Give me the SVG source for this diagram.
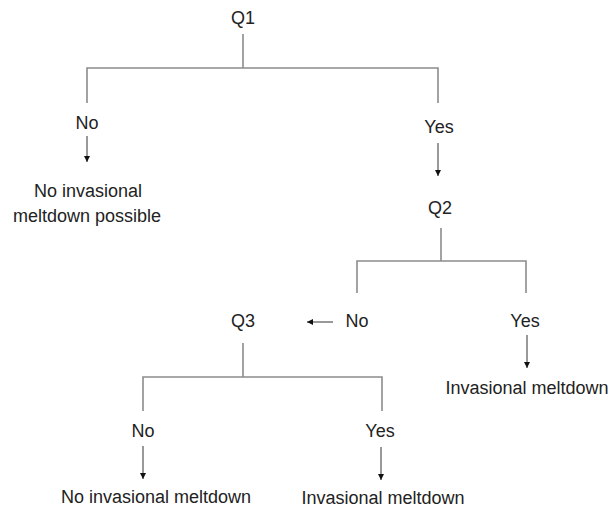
<svg xmlns="http://www.w3.org/2000/svg" width="615" height="508" viewBox="0 0 615 508">
<defs>
<style>
text{font-family:"Liberation Sans",Arial,sans-serif;font-size:18px;fill:#222;text-anchor:middle}
.tree{fill:none;stroke:#8c8c8c;stroke-width:1.6}
.arr{stroke:#555;stroke-width:1.2;marker-end:url(#ah)}
</style>
<marker id="ah" markerUnits="userSpaceOnUse" markerWidth="6" markerHeight="6" refX="6" refY="3" orient="auto">
<path d="M0,0 L6,3 L0,6 z" fill="#111"/>
</marker>
</defs>
<rect width="615" height="508" fill="#fff"/>
<g id="connectors">
<path class="tree" d="M243,34 V68 M87,103 V68 H438 V103"/>
<line class="arr" x1="87" y1="136" x2="87" y2="162"/>
<line class="arr" x1="438" y1="143" x2="438" y2="176"/>
<path class="tree" d="M441,228 V261 M357,293 V261 H526 V293"/>
<line class="arr" x1="333" y1="322" x2="307" y2="322"/>
<line class="arr" x1="527" y1="335" x2="527" y2="368"/>
<path class="tree" d="M243,343 V377 M143,411 V377 H382 V411"/>
<line class="arr" x1="143" y1="446" x2="143" y2="479"/>
<line class="arr" x1="381" y1="447" x2="381" y2="480"/>
</g>
<g id="q1"><text x="243" y="24">Q1</text></g>
<g id="q1-no"><text x="87" y="129">No</text></g>
<g id="q1-no-result"><text x="88" y="197">No invasional</text><text x="87" y="222">meltdown possible</text></g>
<g id="q1-yes"><text x="439" y="133">Yes</text></g>
<g id="q2"><text x="440" y="214">Q2</text></g>
<g id="q2-no"><text x="357" y="327">No</text></g>
<g id="q2-yes"><text x="525" y="327">Yes</text></g>
<g id="q2-yes-result"><text x="527" y="394">Invasional meltdown</text></g>
<g id="q3"><text x="243" y="327">Q3</text></g>
<g id="q3-no"><text x="143" y="437">No</text></g>
<g id="q3-yes"><text x="380" y="437">Yes</text></g>
<g id="q3-no-result"><text x="156" y="503">No invasional meltdown</text></g>
<g id="q3-yes-result"><text x="383" y="504">Invasional meltdown</text></g>
</svg>
